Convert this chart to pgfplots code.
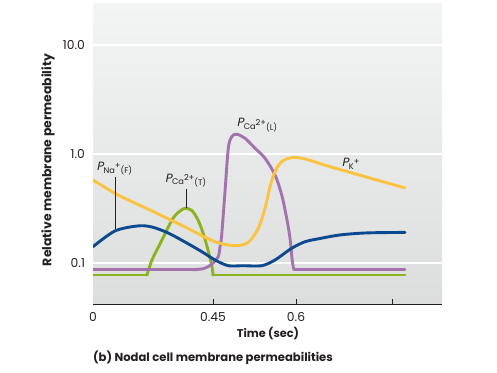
\documentclass[border=0pt]{standalone}
\usepackage{pgfplots}
\pgfplotsset{compat=1.18}
\usepackage{fontspec}
\setmainfont{Poppins}
\newfontfamily\slantfont{Poppins}[FakeSlant=0.2]
\definecolor{bgtop}{HTML}{F3F4F4}
\definecolor{bgbot}{HTML}{DCDDDD}
\definecolor{txt}{HTML}{231F20}
\definecolor{cK}{HTML}{FDC33F}
\definecolor{cNa}{HTML}{0B4A8E}
\definecolor{cCaL}{HTML}{A472AE}
\definecolor{cCaT}{HTML}{8CB31E}
\newcommand{\lab}[3]{{\fontsize{12}{14}\selectfont\slantfont P}{\fontsize{8.2}{9}\selectfont\raisebox{-2.6pt}{#1}\raisebox{1.8pt}{#2}\raisebox{-3.2pt}{#3}}}
\tikzset{mycurve/.style={line width=2.9pt, line join=round, line cap=round}}
\begin{document}
\begin{tikzpicture}[x=1pt,y=1pt]
\useasboundingbox (0,0) rectangle (497,372);
\fill[top color=bgtop,bottom color=bgbot] (93,67.5) rectangle (442,368);
\begin{axis}[at={(93pt,67.5pt)},anchor=south west,scale only axis,
  width=349pt,height=300.5pt,
  xmin=0,xmax=349,ymode=log,ymin=0.0413,ymax=23.9,
  axis line style={draw=none},
  xtick={120,203,299}, xticklabels={0.45,0.6,{}},
  extra x ticks={0}, extra x tick labels={0},
  extra x tick style={major tick length=0pt},
  xtick pos=bottom, tick align=inside, major tick length=5.5pt,
  xtick style={draw=txt,line width=1pt},
  ytick={0.1,1,10}, yticklabels={0.1,1.0,10.0},
  ytick style={draw=none}, yminorticks=false,
  ymajorgrids, major grid style={white,line width=2pt},
  tick label style={font=\fontsize{12.3}{14}\selectfont, text=txt},
  xticklabel style={yshift=-4.5pt},
  yticklabel style={xshift=-4.5pt},
]
% P_Ca2+(T)
\addplot[draw=cCaT, mycurve, smooth] coordinates {(0,0.0771) (27,0.0771) (54,0.0771)};
\addplot[draw=cCaT, mycurve, smooth] coordinates {(54,0.0771) (59,0.106) (69,0.162) (79,0.247) (85,0.2885) (92,0.3167) (99,0.301) (105,0.247) (110,0.188) (115,0.131) (119,0.092) (120,0.0771)};
\addplot[draw=cCaT, mycurve, smooth] coordinates {(120,0.0771) (216,0.0771) (312,0.0771)};
% P_Ca2+(L)
\addplot[draw=cCaL, mycurve, smooth] coordinates {(0,0.0862) (50,0.0862) (100,0.0862)};
\addplot[draw=cCaL, mycurve, smooth] coordinates {(100,0.0862) (110,0.088) (116,0.093) (120,0.0995) (125.3,0.1136) (127,0.140) (128.7,0.180) (132,0.450) (135.3,1.128) (138.7,1.443) (143.7,1.517) (152,1.394) (162,1.128) (172,0.913) (182,0.641) (188.7,0.420) (193.7,0.256) (197,0.168) (199.3,0.1038) (201,0.0862)};
\addplot[draw=cCaL, mycurve, smooth] coordinates {(201,0.0862) (256,0.0862) (312,0.0862)};
% P_K+
\addplot[draw=cK, mycurve, smooth] coordinates {(0,0.576) (25,0.420) (59,0.299) (92,0.213) (122,0.156) (142,0.1435) (155.3,0.154) (165.3,0.2074) (172,0.3167) (177,0.5004) (182,0.6876) (188.7,0.8495) (198.7,0.9247) (212,0.90) (240,0.75) (312,0.487)};
% P_Na+
\addplot[draw=cNa, mycurve, smooth] coordinates {(0,0.1405) (22,0.196) (45,0.218) (59,0.213) (75,0.188) (92,0.155) (109,0.126) (122,0.106) (135.3,0.0939) (150,0.0939) (168.7,0.0939) (182,0.106) (198.7,0.1358) (212,0.156) (224,0.165) (247,0.180) (274,0.188) (312,0.190)};
\draw[txt,line width=1.5pt] (rel axis cs:0,0) -- (rel axis cs:1,0);
\end{axis}
% annotations
\draw[txt,line width=0.9pt] (115.7,195) -- (115.7,143);
\draw[txt,line width=0.9pt] (186.7,183) -- (186.7,164);
\node[anchor=base west,inner sep=0,text=txt] at (96.5,201.3) {\lab{Na}{+}{(F)}};
\node[anchor=base west,inner sep=0,text=txt] at (165,189.8) {\lab{Ca}{2+}{(T)}};
\node[anchor=base west,inner sep=0,text=txt] at (236.7,245) {\lab{Ca}{2+}{(L)}};
\node[anchor=base west,inner sep=0,text=txt] at (341.7,205.3) {\lab{K}{+}{}};
\node[text=txt,font=\bfseries\fontsize{11.3}{13}\selectfont] at (268,38) {Time (sec)};
\node[text=txt,font=\bfseries\fontsize{11.6}{13}\selectfont,anchor=west,inner sep=0] at (93,14) {(b) Nodal cell membrane permeabilities};
\node[text=txt,font=\bfseries\fontsize{12.4}{14}\selectfont,rotate=90] at (48,212) {Relative membrane permeability};
\end{tikzpicture}
\end{document}
